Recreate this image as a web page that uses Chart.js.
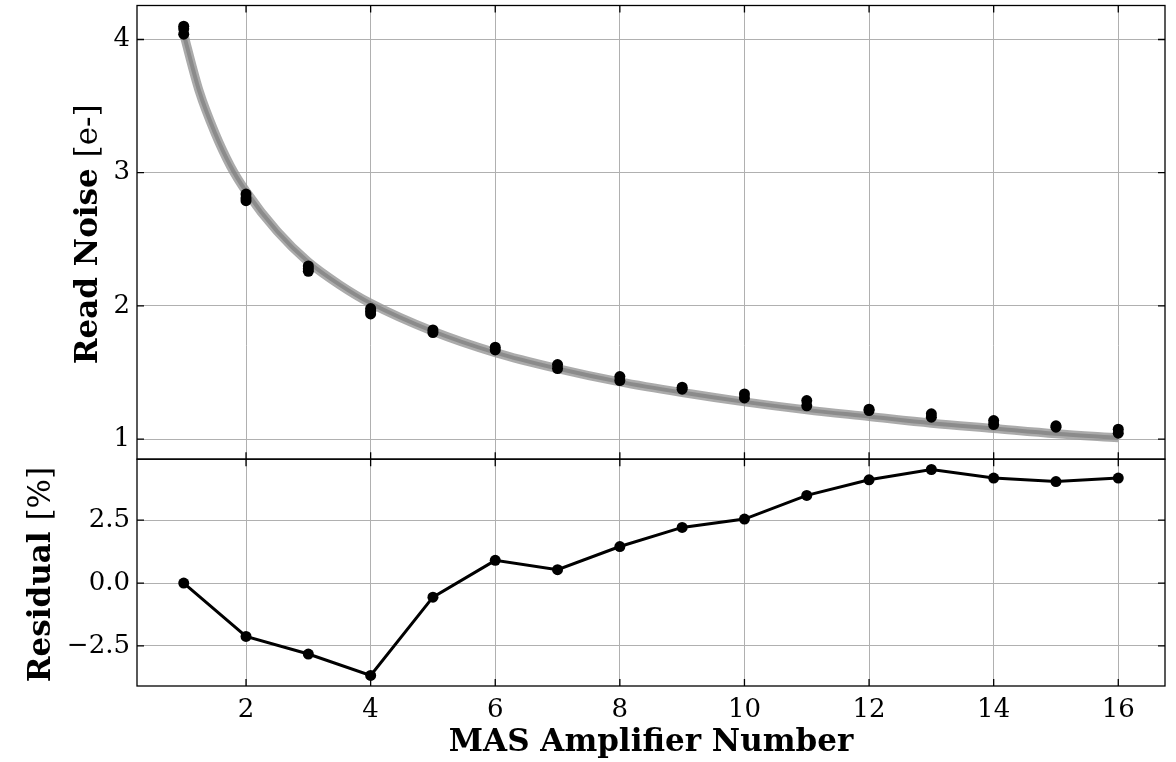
<!DOCTYPE html>
<html>
<head>
<meta charset="utf-8">
<script src="https://cdn.jsdelivr.net/npm/chart.js@4"></script>
<style>
  html, body { margin: 0; background: #fff; }
  #wrap { width: 1176px; height: 762px; }
</style>
</head>
<body>
<div id="wrap"><canvas id="chart"></canvas></div>
<script>
// amplifier numbers and the measured read noise (several exposures each)
const amplifiers = [1, 2, 3, 4, 5, 6, 7, 8, 9, 10, 11, 12, 13, 14, 15, 16];
const readNoise = [
    [4.10, 4.08, 4.04], [2.84, 2.81, 2.79], [2.30, 2.28, 2.26], [1.98, 1.96, 1.94],
    [1.82, 1.80], [1.69, 1.67], [1.56, 1.53], [1.47, 1.44],
    [1.39, 1.375], [1.34, 1.31], [1.29, 1.25], [1.225, 1.215],
    [1.19, 1.165], [1.14, 1.11], [1.10, 1.09], [1.075, 1.045]
];
// fitted curve
const fitX = [1, 1.25, 1.5, 1.75, 2, 2.5, 3, 3.5, 4, 5, 6, 7, 8, 9, 10, 11, 12, 13, 14, 15, 16];
const fitY = [4.04, 3.61, 3.30, 3.05, 2.86, 2.56, 2.33, 2.16, 2.02, 1.81, 1.65, 1.53, 1.43, 1.35, 1.28, 1.22, 1.17, 1.12, 1.08, 1.04, 1.01];
// residual in percent
const residual = [0.0, -2.12, -2.82, -3.67, -0.56, 0.90, 0.53, 1.45, 2.21, 2.54, 3.48, 4.10, 4.51, 4.17, 4.03, 4.17];

const xTicks = [2, 4, 6, 8, 10, 12, 14, 16];
const noiseTicks = [1, 2, 3, 4];
const residualTicks = [-2.5, 0, 2.5];

const SERIF = "'DejaVu Serif', serif";
const GRID = '#b0b0b0';

function sideTitle(ctx, parts, cx, cy, rotate) {
    ctx.save();
    ctx.translate(cx, cy);
    if (rotate) ctx.rotate(-Math.PI / 2);
    let total = 0;
    parts.forEach(p => { ctx.font = p.font; p.w = ctx.measureText(p.text).width; total += p.w; });
    let x0 = -total / 2;
    ctx.textBaseline = 'middle';
    ctx.textAlign = 'left';
    ctx.fillStyle = '#000';
    parts.forEach(p => { ctx.font = p.font; ctx.fillText(p.text, x0, 0); x0 += p.w; });
    ctx.restore();
}

const frame = {
    id: 'frame',
    afterDraw(chart) {
        const ctx = chart.ctx;
        const x = chart.scales.x;
        const panels = [chart.scales.yNoise, chart.scales.yRes];
        ctx.save();
        ctx.strokeStyle = '#000';
        ctx.lineWidth = 1.3;
        panels.forEach(ys => {
            ctx.strokeRect(x.left, ys.top, x.right - x.left, ys.bottom - ys.top);
            ctx.beginPath();
            xTicks.forEach(v => {
                const px = x.getPixelForValue(v);
                ctx.moveTo(px, ys.top); ctx.lineTo(px, ys.top + 7);
                ctx.moveTo(px, ys.bottom); ctx.lineTo(px, ys.bottom - 7);
            });
            ys.ticks.forEach(t => {
                const py = ys.getPixelForValue(t.value);
                ctx.moveTo(x.left, py); ctx.lineTo(x.left + 7, py);
                ctx.moveTo(x.right, py); ctx.lineTo(x.right - 7, py);
            });
            ctx.stroke();
        });
        ctx.restore();

        const bold = 'bold 31px ' + SERIF;
        const normal = '31px ' + SERIF;
        ctx.font = '26px ' + SERIF;
        // titles sit a fixed gap left of the widest tick label
        panels.forEach((ys, i) => {
            let w = 0;
            ys.ticks.forEach(t => { w = Math.max(w, ctx.measureText(t.label).width); });
            const cx = x.left - 7 - w - 25;
            const parts = i === 0
                ? [{ text: 'Read Noise ', font: bold }, { text: '[e-]', font: normal }]
                : [{ text: 'Residual ', font: bold }, { text: '[%]', font: normal }];
            sideTitle(ctx, parts, cx, (ys.top + ys.bottom) / 2 + 2, true);
        });
        sideTitle(ctx, [{ text: 'MAS Amplifier Number', font: bold }], (x.left + x.right) / 2, 743, false);
    }
};

const noisePoints = amplifiers.flatMap((a, i) => readNoise[i].map(v => ({ x: a, y: v })));
const fitPoints = fitX.map((v, i) => ({ x: v, y: fitY[i] }));
const residualPoints = amplifiers.map((a, i) => ({ x: a, y: residual[i] }));

const tickFont = { family: SERIF, size: 26 };

function noPad(s) { s.paddingTop = 0; s.paddingBottom = 0; s.paddingLeft = 0; s.paddingRight = 0; }

new Chart(document.getElementById('chart'), {
    type: 'scatter',
    data: {
        datasets: [
            {
                data: noisePoints, yAxisID: 'yNoise',
                backgroundColor: '#000', borderColor: '#000', pointRadius: 5.5, pointBorderWidth: 0
            },
            {
                data: residualPoints, yAxisID: 'yRes', showLine: true,
                borderColor: '#000', backgroundColor: '#000', borderWidth: 3, pointRadius: 5.5, pointBorderWidth: 0
            },
            {
                data: fitPoints, yAxisID: 'yNoise', showLine: true, cubicInterpolationMode: 'monotone',
                borderColor: 'rgba(128,128,128,0.75)', borderWidth: 4, pointRadius: 0
            },
            {
                data: fitPoints, yAxisID: 'yNoise', showLine: true, cubicInterpolationMode: 'monotone',
                borderColor: 'rgba(150,150,150,0.8)', borderWidth: 9, pointRadius: 0
            }
        ]
    },
    options: {
        responsive: true,
        maintainAspectRatio: false,
        animation: false,
        layout: { padding: { top: 5, right: 11, left: 0, bottom: 0 } },
        plugins: { legend: { display: false }, tooltip: { enabled: false } },
        scales: {
            x: {
                type: 'linear', min: 0.25, max: 16.75,
                afterBuildTicks: s => { s.ticks = xTicks.map(v => ({ value: v })); },
                afterFit: s => { s.height = 76; noPad(s); },
                grid: { color: GRID, lineWidth: 1, drawTicks: false },
                border: { display: false },
                ticks: { font: tickFont, color: '#000', padding: 9, maxRotation: 0 }
            },
            yRes: {
                type: 'linear', position: 'left', stack: 'panels', stackWeight: 1,
                min: -4.09, max: 4.92,
                afterBuildTicks: s => { s.ticks = residualTicks.map(v => ({ value: v })); },
                afterFit: s => { s.width = 137; noPad(s); },
                grid: { color: GRID, lineWidth: 1, drawTicks: false },
                border: { display: false },
                ticks: {
                    font: tickFont, color: '#000', padding: 7,
                    callback: v => v.toFixed(1).replace('-', '\u2212')
                }
            },
            yNoise: {
                type: 'linear', position: 'left', stack: 'panels', stackWeight: 2,
                min: 0.85, max: 4.255,
                afterBuildTicks: s => { s.ticks = noiseTicks.map(v => ({ value: v })); },
                afterFit: s => { s.width = 137; noPad(s); },
                grid: { color: GRID, lineWidth: 1, drawTicks: false },
                border: { display: false },
                ticks: { font: tickFont, color: '#000', padding: 7 }
            }
        }
    },
    plugins: [frame]
});
</script>
</body>
</html>
